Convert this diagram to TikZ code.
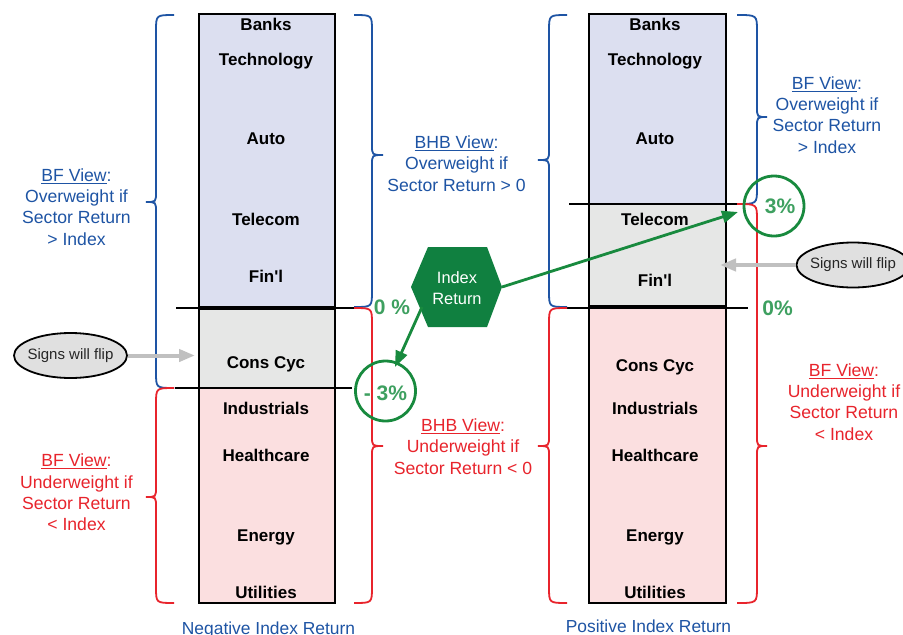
\documentclass[tikz,border=0pt]{standalone}
\usepackage{fontspec}
\setmainfont{Liberation Sans}
\newfontfamily\plainsans{Liberation Sans}[Ligatures=TeXOff]
\usetikzlibrary{shapes.geometric,arrows.meta}

\definecolor{bfblue}{RGB}{30,84,164}
\definecolor{bfred}{RGB}{232,36,44}
\definecolor{hexgreen}{RGB}{16,128,64}
\definecolor{ringgreen}{RGB}{24,138,62}
\definecolor{pctgreen}{RGB}{62,160,96}
\definecolor{boxblue}{RGB}{220,223,240}
\definecolor{boxgray}{RGB}{230,231,230}
\definecolor{boxpink}{RGB}{251,223,224}
\definecolor{flipgray}{RGB}{224,224,224}
\definecolor{arrowgray}{RGB}{192,192,192}

% vertical curly brace: colour, x of ends, x of spine, x of tip, y top, y bottom, y tip
\newcommand\sectorbrace[7]{%
  \draw[bracestyle,#1] (#2,#5) .. controls (#3,#5) .. (#3,{#5+16})
    -- (#3,{#7-10}) .. controls (#3,#7) .. (#4,#7)
    .. controls (#3,#7) .. (#3,{#7+10})
    -- (#3,{#6-16}) .. controls (#3,#6) .. (#2,#6);}
% straight apostrophe, without the TeX quote mapping
\newcommand\finl{{\plainsans\bfseries Fin'l}}

\begin{document}
\begin{tikzpicture}[x=1pt,y=-1pt,
  sector/.style={font=\fontsize{17}{20}\selectfont\bfseries, text=black, inner sep=0, anchor=base},
  viewtext/.style={font=\fontsize{17.6}{21.4}\selectfont, align=center, inner sep=0},
  bandbox/.style={draw=black, line width=1.4pt},
  sepline/.style={draw=black, line width=1.2pt},
  bracestyle/.style={line width=1.8pt},
  pct/.style={font=\fontsize{21}{24}\selectfont\bfseries, text=pctgreen, inner sep=0, anchor=base},
  ring/.style={circle, draw=ringgreen, line width=2.8pt, minimum size=60pt, inner sep=0},
  flip/.style={ellipse, draw=black, line width=1.8pt, fill=flipgray, minimum width=113pt,
    minimum height=45pt, inner sep=0, font=\fontsize{15}{18}\selectfont, text=black!85},
  greenarrow/.style={draw=ringgreen, line width=2.8pt, -{Triangle[length=16pt,width=12pt]}},
  grayarrow/.style={draw=arrowgray, line width=4pt, -{Triangle[length=16pt,width=12pt]}},
  caption/.style={font=\fontsize{17.4}{20}\selectfont, text=bfblue, inner sep=0, anchor=base}
]
\useasboundingbox (0,0) rectangle (903,635);
\fill[white] (0,0) rectangle (903,635);

% ---------- left column: negative index return ----------
\draw[bandbox, fill=boxblue] (199,14) rectangle (335,307);
\draw[bandbox, fill=boxgray] (199,309.5) rectangle (335,388);
\draw[bandbox, fill=boxpink] (199,388) rectangle (335,603);
\coordinate (LsepA1) at (176,308); \coordinate (LsepA2) at (355,308);
\coordinate (LsepB1) at (175,388); \coordinate (LsepB2) at (352,388);
\draw[sepline] (LsepA1) -- (LsepA2);
\draw[sepline] (LsepB1) -- (LsepB2);

\node[sector] (lBanks) at (266,30.5) {Banks};
\node[sector] (lTech) at (266,65) {Technology};
\node[sector] (lAuto) at (266,144) {Auto};
\node[sector] (lTel) at (266,225) {Telecom};
\node[sector] (lFin) at (266,282) {\finl};
\node[sector] (lCons) at (266,368) {Cons Cyc};
\node[sector] (lInd) at (266,414) {Industrials};
\node[sector] (lHealth) at (266,461.5) {Healthcare};
\node[sector] (lEnergy) at (266,541) {Energy};
\node[sector] (lUtil) at (266,598) {Utilities};

\sectorbrace{bfblue}{174}{156}{146}{15}{388}{202}
\sectorbrace{bfred}{174}{156}{146}{388}{603}{497}
\sectorbrace{bfblue}{354}{372}{383}{15}{307}{155}
\sectorbrace{bfred}{354}{372}{383}{308}{603}{446}

\node[viewtext, text=bfblue] (lBFover) at (76.5,207)
  {\underline{BF View}:\\Overweight if\\Sector Return\\> Index};
\node[viewtext, text=bfred] (lBFunder) at (76.5,492.5)
  {\underline{BF View}:\\Underweight if\\Sector Return\\< Index};
\node[viewtext, text=bfblue] (BHBover) at (456.5,163.5)
  {\underline{BHB View}:\\Overweight if\\Sector Return > 0};
\node[viewtext, text=bfred] (BHBunder) at (463,446.5)
  {\underline{BHB View}:\\Underweight if\\Sector Return < 0};

\node[caption] (negcap) at (268.5,634) {Negative Index Return};

% ---------- right column: positive index return ----------
\draw[bandbox, fill=boxblue] (589,14) rectangle (726,204);
\draw[bandbox, fill=boxgray] (589,204) rectangle (726,306);
\draw[bandbox, fill=boxpink] (589,308) rectangle (726,603);
\coordinate (RsepA1) at (569,204); \coordinate (RsepA2) at (739,204);
\coordinate (RsepB1) at (567,308); \coordinate (RsepB2) at (748,308);
\draw[sepline] (RsepA1) -- (RsepA2);
\draw[sepline] (RsepB1) -- (RsepB2);

\node[sector] (rBanks) at (655,30.5) {Banks};
\node[sector] (rTech) at (655,65) {Technology};
\node[sector] (rAuto) at (655,144) {Auto};
\node[sector] (rTel) at (655,225) {Telecom};
\node[sector] (rFin) at (655,286) {\finl};
\node[sector] (rCons) at (655,371) {Cons Cyc};
\node[sector] (rInd) at (655,414) {Industrials};
\node[sector] (rHealth) at (655,461.5) {Healthcare};
\node[sector] (rEnergy) at (655,541) {Energy};
\node[sector] (rUtil) at (655,598) {Utilities};

\sectorbrace{bfblue}{567}{549}{538}{15}{307}{160}
\sectorbrace{bfred}{567}{549}{538}{308}{603}{446}
\sectorbrace{bfblue}{737}{757}{767}{15}{204}{117}
\sectorbrace{bfred}{737}{757}{767}{204}{603}{446}

\node[viewtext, text=bfblue] (rBFover) at (827,115)
  {\underline{BF View}:\\Overweight if\\Sector Return\\> Index};
\node[viewtext, text=bfred] (rBFunder) at (844,402)
  {\underline{BF View}:\\Underweight if\\Sector Return\\< Index};

\node[caption] (poscap) at (648.5,632.6) {Positive Index Return};

% ---------- zero lines and index markers ----------
\node[pct] (zeroL) at (392,314) {0 \%};
\node[pct] (zeroR) at (777.5,315) {0\%};

\node[ring] (ringL) at (385.5,391) {};
\node[pct] (pctL) at (385.5,400) {- 3\%};
\node[ring] (ringR) at (774,206) {};
\node[pct] (pctR) at (780,213) {3\%};

% index-return hexagon (flat top and bottom, pointed sides)
\coordinate (hexE) at (502,287);
\coordinate (hexSW) at (422,307);
\fill[hexgreen] (411,287) -- (428,247) -- (487,247) -- (502,287)
  -- (487,327) -- (428,327) -- cycle;
\node[text=white, align=center, inner sep=0, font=\fontsize{16.4}{21}\selectfont]
  (hex) at (457,288) {Index\\Return};

\coordinate (tipR) at (738,212);
\coordinate (tipL) at (395,367);
\draw[greenarrow] (hexE) -- (tipR);
\draw[greenarrow] (hexSW) -- (tipL);

% ---------- sign-flip callouts (zero-width text so the ellipse keeps its size) ----------
\node[flip] (flipL) at (70.5,355.5) {\makebox[0pt]{Signs will flip}};
\node[flip] (flipR) at (853,265) {\makebox[0pt]{Signs will flip}};
\coordinate (flipTipL) at (195,355.5);
\coordinate (flipTipR) at (720,265);
\draw[grayarrow] (flipL.east) -- (flipTipL);
\draw[grayarrow] (flipR.west) -- (flipTipR);
\end{tikzpicture}
\end{document}
